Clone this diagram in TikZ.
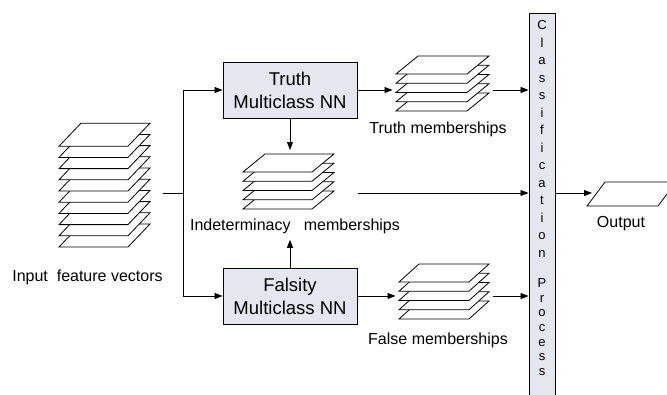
\documentclass[tikz,border=0pt]{standalone}
\usepackage{fontspec}
\setmainfont{Liberation Sans}
\usetikzlibrary{arrows.meta}
\definecolor{boxfill}{RGB}{229,231,240}
\tikzset{
  nnbox/.style={draw, line width=0.9pt, fill=boxfill, minimum width=134pt, minimum height=56pt, align=center, font=\fontsize{18.5}{23}\selectfont},
  barbox/.style={draw, line width=0.9pt, fill=boxfill, minimum width=26pt, minimum height=385pt, inner sep=0pt},
  sheet/.style={draw, fill=white, line width=0.8pt},
  stackarea/.style={inner sep=0pt},
  lbl/.style={anchor=base, inner sep=0pt, font=\fontsize{16}{19}\selectfont},
  letter/.style={anchor=base, inner sep=0pt, font=\fontsize{13}{15}\selectfont},
  line/.style={line width=0.8pt},
  arrow/.style={line width=0.8pt, -{Triangle[length=8pt,width=6pt]}}
}
\begin{document}
\begin{tikzpicture}[x=1pt,y=-1pt]
\useasboundingbox (0,0) rectangle (667,394);
\foreach \k in {0,...,9}
  \draw[sheet] (59,{247-11.2*\k}) -- ++(69,0) -- ++(22,-23) -- ++(-69,0) -- cycle;
\foreach \k in {0,...,4}
  \draw[sheet] (396,{111-9.25*\k}) -- ++(71,0) -- ++(22,-18) -- ++(-71,0) -- cycle;
\foreach \k in {0,...,4}
  \draw[sheet] (243,{209-9.25*\k}) -- ++(69,0) -- ++(22,-18) -- ++(-69,0) -- cycle;
\foreach \k in {0,...,4}
  \draw[sheet] (399,{319-9.25*\k}) -- ++(70,0) -- ++(20,-18) -- ++(-70,0) -- cycle;
\draw[sheet] (587,206) -- (605,182) -- (676,182) -- (658,206) -- cycle;
\node[stackarea, minimum width=91pt, minimum height=124pt, outer xsep=13pt] (IV) at (104.5,185) {};
\node[stackarea, minimum width=93pt, minimum height=55pt, outer xsep=3.5pt] (TM) at (442.5,83.5) {};
\node[stackarea, minimum width=91pt, minimum height=55pt, outer ysep=4pt] (IM) at (288.5,181.5) {};
\node[stackarea, minimum width=90pt, minimum height=55pt, outer xsep=3.5pt] (FM) at (444,291.5) {};
\node[nnbox] (TN) at (290,90) {Truth\\Multiclass NN};
\node[nnbox] (FN) at (290,296) {Falsity\\Multiclass NN};
\node[barbox] (CP) at (542,205.5) {};
\foreach \ch [count=\i] in {C,l,a,s,s,i,f,i,c,a,t,i,o,n}
  \node[letter] (c\i) at (542,{29.7+17.5*(\i-1)}) {\ch};
\foreach \ch [count=\i] in {P,r,o,c,e,s,s}
  \node[letter] (p\i) at (542,{287.7+14.6*(\i-1)}) {\ch};
\node[lbl] (IVL) at (87.5,281) {Input\ \ feature vectors};
\node[lbl] (TML) at (438,133) {Truth memberships};
\node[lbl, outer ysep=6pt] (IML) at (295,230.5) {Indeterminacy\ \ \ memberships};
\node[lbl] (FML) at (438,344) {False memberships};
\node[lbl] (OPL) at (621,227) {Output};
\coordinate (J) at (183,193);
\coordinate (IMout) at (358,193);
\coordinate (OP) at (592,193);
\draw[line] (IV.east |- J) -- (J);
\draw[arrow] (J) |- (TN.west);
\draw[arrow] (J) |- (FN.west);
\draw[arrow] (TN.east) -- (TN.east -| TM.west);
\draw[arrow] (TN.south) -- (TN.south |- IM.north);
\draw[arrow] (FN.north) -- (FN.north |- IML.south);
\draw[arrow] (FN.east) -- (FN.east -| FM.west);
\draw[arrow] (TN.east -| TM.east) -- (TN.east -| CP.west);
\draw[arrow] (IMout) -- (IMout -| CP.west);
\draw[arrow] (FN.east -| FM.east) -- (FN.east -| CP.west);
\draw[arrow] (IMout -| CP.east) -- (OP);
\end{tikzpicture}
\end{document}
